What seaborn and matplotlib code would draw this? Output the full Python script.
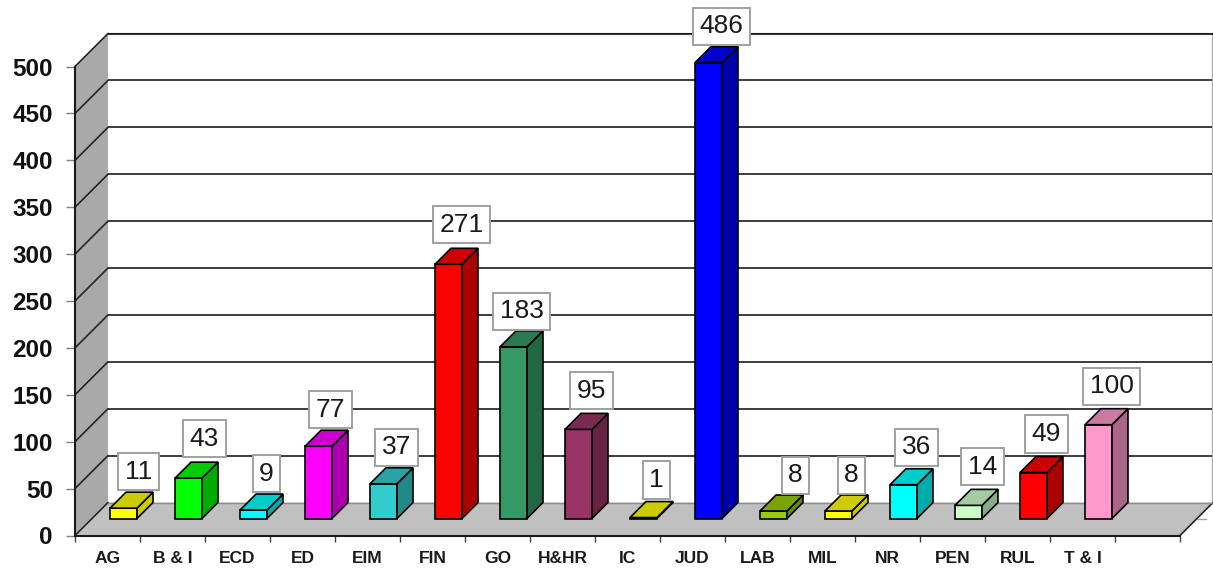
import numpy as np
import pandas as pd
import matplotlib
matplotlib.use("Agg")
import matplotlib.pyplot as plt
from matplotlib.patches import Polygon
from matplotlib.transforms import IdentityTransform
from matplotlib.colors import to_rgb
import seaborn as sns

categories = ["AG", "B & I", "ECD", "ED", "EIM", "FIN", "GO", "H&HR", "IC", "JUD",
              "LAB", "MIL", "NR", "PEN", "RUL", "T & I"]
values = [11, 43, 9, 77, 37, 271, 183, 95, 1, 486, 8, 8, 36, 14, 49, 100]
colors = ["#FFFF00", "#00FF00", "#00FFFF", "#FF00FF", "#33CCCC", "#FF0000", "#339966", "#993366",
          "#FFFF00", "#0000FF", "#99CC00", "#FFFF00", "#00FFFF", "#CCFFCC", "#FF0000", "#FF99CC"]
y_ticks = list(range(0, 501, 50))

# small hand placement of the value boxes, in pixels (right, up)
label_nudge_x = [2, 3, 0, -1, 0, 0, -5, 0, 0, 0, 9, 0, 0, 1, 0, 0]
label_nudge_y = [-2, 1, -2, -2, -2, 1, -3, 0, -1, -2, -3, -3, -1, 0, 0, 0]

W, H = 1213, 572
sns.set_theme(style="white")
plt.rcParams["font.family"] = ["Liberation Sans", "DejaVu Sans"]
fig = plt.figure(figsize=(W / 100, H / 100), dpi=100, facecolor="white")


def rect(l, r, top, bottom):
    return [l / W, 1 - bottom / H, (r - l) / W, (bottom - top) / H]


DEPTH = 33
HALF_X, HALF_Y = 16, 17
L, R, T, B = 75, 1180, 66.5, 535.5
ax_back = fig.add_axes(rect(L + DEPTH, R + DEPTH - 1, T - DEPTH, B - DEPTH), zorder=0)
ax = fig.add_axes(rect(L, R, T, B), zorder=1, facecolor="none")
ax_bars = fig.add_axes(rect(L + HALF_X, R + HALF_X, T - HALF_Y, B - HALF_Y), zorder=2, facecolor="none")

n_slots = len(categories) + 1
for a in (ax, ax_back, ax_bars):
    a.set_xlim(-0.5, n_slots - 0.5)
    a.set_ylim(0, y_ticks[-1])

# back wall grid
ax_back.set_yticks(y_ticks[1:])
ax_back.set_xticks([])
ax_back.tick_params(left=False, labelleft=False)
ax_back.yaxis.grid(True, color="#3c3c3c", lw=1.4)
ax_back.set_axisbelow(False)
for s in ax_back.spines.values():
    s.set_visible(False)
ax_back.spines["top"].set_visible(True)
ax_back.spines["top"].set_color("#1a1a1a")
ax_back.spines["top"].set_linewidth(1.5)
ax_back.spines["right"].set_visible(True)
ax_back.spines["right"].set_color("#b0b0b0")
ax_back.spines["right"].set_linewidth(1.0)

# side wall, floor and their diagonals in screen space
to_px = ax.transData.transform
y0 = to_px((-0.5, 0))
y1 = to_px((-0.5, y_ticks[-1]))
xr = to_px((n_slots - 0.5, 0))
d = np.array([DEPTH, DEPTH])
idt = IdentityTransform()
ax_back.add_patch(Polygon([y0, y1, y1 + d, y0 + d], closed=True, transform=idt, clip_on=False,
                          fc="#A9A9A9", ec="none", zorder=1))
ax_back.add_patch(Polygon([y0, xr, xr + d, y0 + d], closed=True, transform=idt, clip_on=False,
                          fc="#C0C0C0", ec="none", zorder=1))
for v in y_ticks:
    p = to_px((-0.5, v))
    ax_back.plot(*zip(p, p + d), transform=idt, clip_on=False, color="#262626", lw=1.2, zorder=3)
ax_back.plot(*zip(xr, xr + d), transform=idt, clip_on=False, color="#262626", lw=1.2, zorder=3)
ax_back.plot(*zip(y0 + d, xr + d), transform=idt, clip_on=False, color="#8c8c8c", lw=1.0, zorder=3)
mid = xr + d / 2
ax_back.plot(*zip(mid, mid + np.array([9, 0])), transform=idt, clip_on=False, color="#a0a0a0", lw=1.0, zorder=3)

# front axes with ticks and labels
ax.set_yticks(y_ticks)
ax.set_xticks(np.arange(len(categories)))
ax.set_xticklabels(categories, fontsize=12.5, fontweight="bold", color="#1a1a1a")
ax.set_xticks(np.arange(n_slots + 1) - 0.5, minor=True)
ax.tick_params(axis="x", which="major", length=0, pad=11.5)
ax.tick_params(axis="x", which="minor", length=4.5, width=1, color="#404040", bottom=True)
ax.tick_params(axis="y", length=6.5, width=1, color="#808080", pad=9.5, left=True)
for lab in ax.get_yticklabels():
    lab.set_fontsize(17.5)
    lab.set_fontweight("bold")
    lab.set_color("#111111")
for s in ("top", "right"):
    ax.spines[s].set_visible(False)
for s in ("left", "bottom"):
    ax.spines[s].set_color("#1a1a1a")
    ax.spines[s].set_linewidth(1.5)

# bars
df = pd.DataFrame({"category": categories, "value": values})
sns.barplot(data=df, x="category", y="value", hue="category", palette=colors, dodge=False,
            legend=False, width=0.415, edgecolor="black", linewidth=1.2, saturation=1, ax=ax_bars)
ax_bars.set_xlim(-0.5, n_slots - 0.5)
ax_bars.set_ylim(0, y_ticks[-1])
ax_bars.axis("off")


def shade(c, f):
    return tuple(np.array(to_rgb(c)) * f)


BD = np.array([16, 16])
bars = [b for b in ax_bars.patches if b.get_height() > 0]
bars.sort(key=lambda b: b.get_x())
tp = ax_bars.transData.transform
PX = 0.72  # points per pixel at 100 dpi
for bar, col, val, nx, ny in zip(bars, colors, values, label_nudge_x, label_nudge_y):
    bar.set_clip_on(False)
    x, w = bar.get_x(), bar.get_width()
    bl, br = tp((x, 0)), tp((x + w, 0))
    tl, tr = tp((x, val)), tp((x + w, val))
    side = 0.8 if col == "#FFFF00" else 0.67
    ax_bars.add_patch(Polygon([br, tr, tr + BD, br + BD], closed=True, transform=idt, clip_on=False,
                              fc=shade(col, side), ec="black", lw=1.2, zorder=3))
    ax_bars.add_patch(Polygon([tl, tr, tr + BD, tl + BD], closed=True, transform=idt, clip_on=False,
                              fc=shade(col, 0.8), ec="black", lw=1.2, zorder=3))
    ax_bars.annotate(str(val), (x + w / 2, val),
                     xytext=((13 + nx) * PX, (38.5 + ny) * PX), textcoords="offset points",
                     ha="center", va="center", fontsize=19, color="#1a1a1a", zorder=6,
                     annotation_clip=False,
                     bbox=dict(boxstyle="square,pad=0.25", fc="white", ec="#a0a0a0", lw=1.4))

fig.savefig("out.png", dpi=100)
